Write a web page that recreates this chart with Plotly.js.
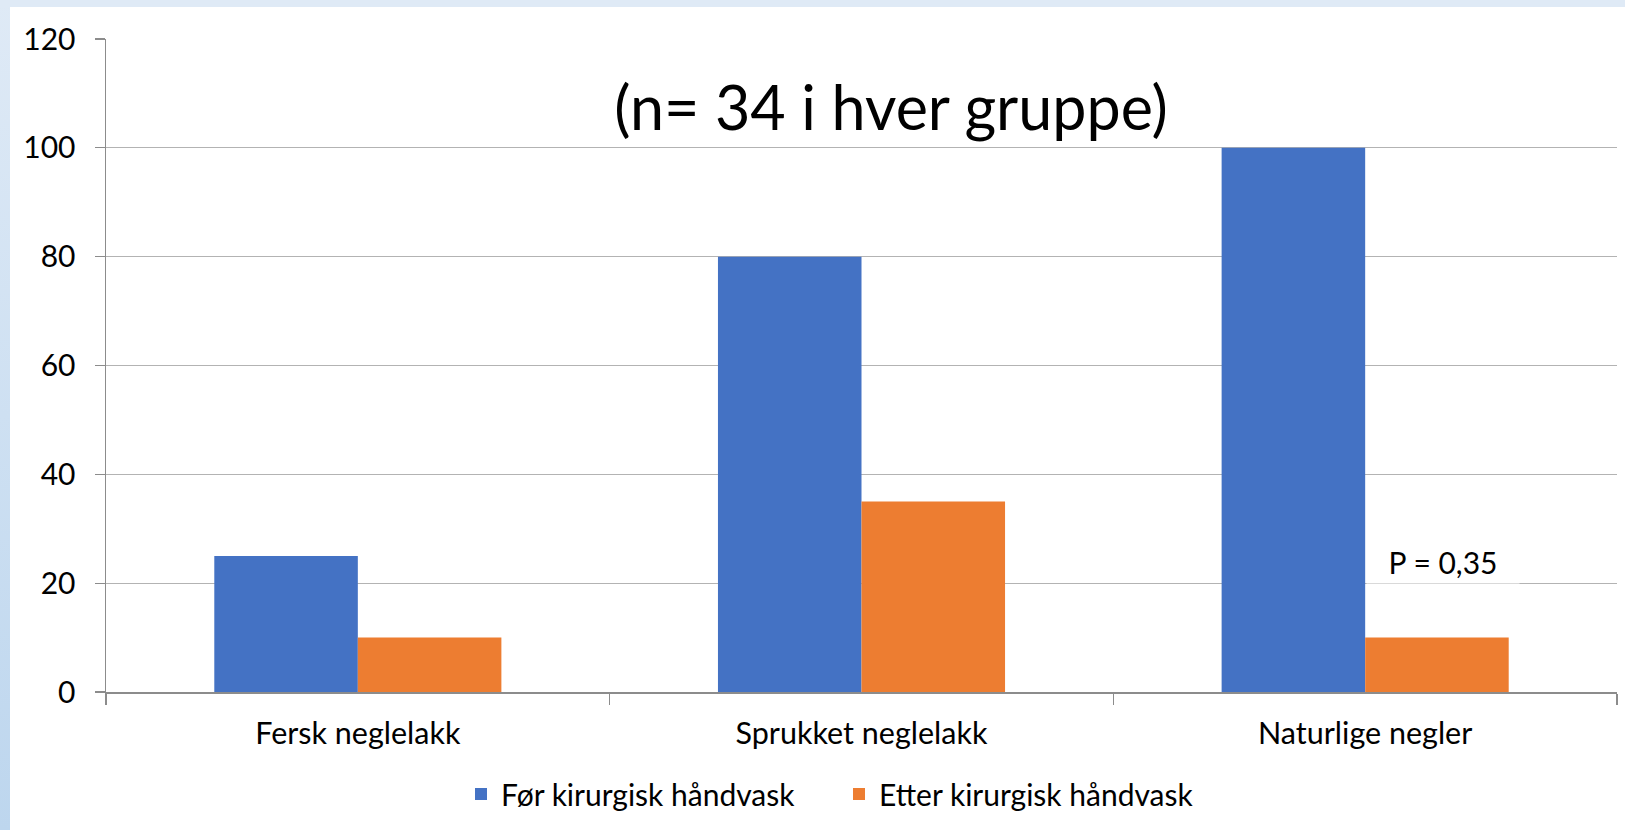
<!DOCTYPE html>
<html>
<head>
<meta charset="utf-8">
<script src="https://cdn.plot.ly/plotly-3.0.1.min.js"></script>
<style>
  html, body { margin: 0; padding: 0; background: #ffffff; }
  #leftstrip { position: absolute; left: 0; top: 0; width: 10px; height: 830px;
    background: linear-gradient(#dfeaf6, #bdd6ee); }
  #topstrip { position: absolute; left: 0; top: 0; width: 1625px; height: 7px; background: #dfeaf6; }
  #chart { position: absolute; left: 0; top: 0; width: 1625px; height: 830px; }
</style>
</head>
<body>
<div id="leftstrip"></div>
<div id="topstrip"></div>
<div id="chart"></div>
<script>
const categories = ["Fersk neglelakk", "Sprukket neglelakk", "Naturlige negler"];
const seriesNames = ["Før kirurgisk håndvask", "Etter kirurgisk håndvask"];
const beforeValues = [25, 80, 100];
const afterValues = [10, 35, 10];
const yTicks = [0, 20, 40, 60, 80, 100, 120];
const titleText = "(n= 34 i hver gruppe)";
const pText = "P = 0,35";

const FONT = "Lato, 'Open Sans', sans-serif";

const traces = [
  { type: "bar", name: seriesNames[0], x: categories, y: beforeValues,
    marker: { color: "#4472c4" } },
  { type: "bar", name: seriesNames[1], x: categories, y: afterValues,
    marker: { color: "#ed7d31" } }
];

const layout = {
  width: 1625, height: 830,
  paper_bgcolor: "rgba(0,0,0,0)",
  plot_bgcolor: "rgba(0,0,0,0)",
  margin: { l: 106, r: 8, t: 39, b: 138 },
  barmode: "group",
  bargap: 0.43,
  bargroupgap: 0,
  font: { family: FONT, color: "#000000", size: 30 },
  title: {
    text: titleText,
    font: { family: FONT, size: 61, color: "#000000" },
    xref: "container", yref: "container",
    x: 0.5483, xanchor: "center",
    y: 1 - 109 / 830, yanchor: "middle"
  },
  xaxis: {
    type: "category",
    showgrid: false,
    showline: true, linecolor: "#8c8c8c", linewidth: 1.5,
    ticks: "outside", ticklen: 11, tickcolor: "#8c8c8c", tickwidth: 1.5,
    tickson: "boundaries",
    ticklabelstandoff: 14,
    tickfont: { family: FONT, size: 30.5, color: "#000000" },
    zeroline: false
  },
  yaxis: {
    range: [0, 120],
    tickvals: yTicks,
    ticktext: yTicks.map(String),
    showgrid: true, gridcolor: "#b3b3b3", gridwidth: 1.3,
    showline: true, linecolor: "#8c8c8c", linewidth: 1.5,
    ticks: "outside", ticklen: 10, tickcolor: "#8c8c8c", tickwidth: 1.3,
    ticklabelstandoff: 13,
    tickfont: { family: FONT, size: 30, color: "#000000" },
    zeroline: false
  },
  showlegend: true,
  legend: {
    orientation: "h",
    xref: "container", yref: "container",
    x: 839 / 1625, xanchor: "center",
    y: 1 - 794 / 830, yanchor: "middle",
    font: { family: FONT, size: 30, color: "#000000" },
    bgcolor: "rgba(0,0,0,0)",
    traceorder: "normal",
    entrywidth: 333
  },
  annotations: [
    {
      text: pText, showarrow: false,
      xref: "x", yref: "y",
      x: 2.155, y: 23.8,
      xanchor: "center", yanchor: "middle",
      width: 150, height: 40,
      bgcolor: "#ffffff",
      font: { family: FONT, size: 30, color: "#000000" }
    }
  ]
};

Plotly.newPlot("chart", traces, layout, { staticPlot: true, displayModeBar: false });
</script>
</body>
</html>
